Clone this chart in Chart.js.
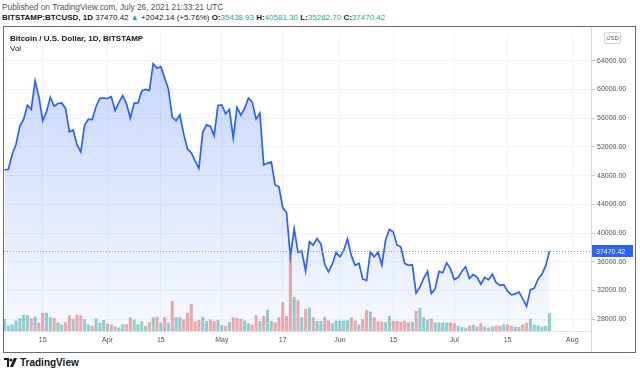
<!DOCTYPE html>
<html>
<head>
<meta charset="utf-8">
<script src="https://cdn.jsdelivr.net/npm/chart.js@4.4.1/dist/chart.umd.min.js"></script>
<style>
body{margin:0;width:640px;height:372px;background:#fff;position:relative;overflow:hidden;font-family:"Liberation Sans",Arial,sans-serif}
#pub{position:absolute;left:2px;top:2px;font-size:8.3px;color:#50535e;white-space:nowrap}
#sym{position:absolute;left:2px;top:13px;font-size:8px;color:#131722;white-space:nowrap}
#sym .up{color:#26a69a}
#frame{position:absolute;left:3px;top:26px;width:631px;height:325px;border:1px solid #6a6d78}
#frame canvas{position:absolute;left:0;top:0}
#title{position:absolute;left:6px;top:7px;font-size:8px;font-weight:bold;color:#131722;white-space:nowrap}
#vol{position:absolute;left:6px;top:17px;font-size:8px;color:#131722}
#usd{position:absolute;left:600px;top:5px;width:15px;height:10px;border:1px solid #d1d4dc;border-radius:2px;background:#fff;font-size:6px;color:#50535e;text-align:center;line-height:10px}
#foot{position:absolute;left:4px;top:356px;height:12px;display:flex;align-items:center;font-size:10px;font-weight:bold;color:#131722}
#foot svg{margin-right:3px}
</style>
</head>
<body>
<div id="pub">Published on TradingView.com, July 26, 2021 21:33:21 UTC</div>
<div id="sym"><b>BITSTAMP:BTCUSD, 1D</b> 37470.42 <span class="up">▲</span> +2042.14 (+5.76%) <b>O:</b><span class="up">35438.93</span> <b>H:</b><span class="up">40581.30</span> <b>L:</b><span class="up">35282.70</span> <b>C:</b><span class="up">37470.42</span></div>
<div id="frame">
  <canvas id="c" width="631" height="325"></canvas>
  <div id="title">Bitcoin / U.S. Dollar, 1D, BITSTAMP</div>
  <div id="vol">Vol</div>
  <div id="usd">USD</div>
</div>
<div id="foot"><svg width="13" height="9" viewBox="0 0 13 9"><path d="M0 0h5v9H3V2H0z" fill="#131722"/><circle cx="7" cy="2" r="1.6" fill="#131722"/><path d="M10 0h3L9 9H6z" fill="#131722"/></svg>TradingView</div>

<script>
// daily closes, Mar 5 .. Jul 26 2021
const closes = [
  48800,48880,50970,52370,54880,55860,57800,57230,61180,59000,55630,56900,58900,57650,58030,58100,57350,54100,54340,52300,51300,55030,55850,55780,57600,58760,58780,
  58730,58990,57060,58200,59130,57990,56010,58080,58100,59770,59980,59850,63580,62950,63160,61600,60040,56150,55650,56470,53800,51700,51190,50050,49000,54020,55060,54850,53560,57750,
  57830,56610,57200,53240,57480,56400,57350,58800,58230,55860,56700,49500,49700,49900,46700,46430,43540,42850,36700,40600,37300,37500,34700,38780,38300,39240,38490,35660,34600,35670,37300,
  36680,37570,39180,36850,35520,35800,33580,33400,37380,36690,37330,35550,39020,40520,40140,38350,38060,35780,35490,35600,31660,32500,33680,34660,31590,32250,34650,34470,35860,35050,
  33540,33800,34650,35300,33690,34220,33880,32870,33810,33510,34260,33090,32730,32820,31900,31400,31530,31790,30830,29790,32110,32290,33580,34260,35430,37470.42
]
// volume, thousand BTC
const volumes = [
  7.4,3.4,4.0,6.4,8.0,10.0,9.6,7.6,8.8,5.2,11.2,11.2,8.4,8.0,5.2,4.0,5.4,9.6,7.2,10.0,9.6,7.2,4.0,3.2,7.6,5.2,6.8,
  4.4,4.0,2.8,2.2,4.0,4.2,8.2,7.0,4.2,5.8,3.0,5.4,8.4,8.8,5.2,8.6,5.2,18.4,8.4,8.4,7.0,11.2,16.6,6.0,6.8,8.8,6.2,7.0,6.2,6.8,
  3.6,3.0,5.4,8.4,8.0,7.4,6.4,4.8,4.0,9.6,6.2,9.2,13.0,6.2,5.2,8.4,17.6,9.2,45.4,20.8,18.8,8.4,13.4,14.4,8.4,6.2,6.2,8.8,6.4,4.8,6.4,
  6.4,6.4,6.4,8.4,6.4,4.0,7.2,12.8,12.0,8.4,5.8,5.8,5.4,9.2,6.2,6.2,5.6,6.2,5.2,5.8,12.4,14.2,8.4,7.0,7.6,5.2,5.2,5.2,5.2,5.2,
  4.8,3.2,2.4,2.0,3.4,4.0,2.8,4.8,2.8,2.2,2.8,3.2,3.2,4.2,4.0,3.2,2.6,2.4,4.0,5.2,7.4,4.0,3.4,2.6,3.0,10.8
]
// 1 = up day, 0 = down day
const volUp = [
  1,1,1,1,1,1,1,0,1,0,0,1,1,0,1,1,0,0,1,0,0,1,1,0,1,1,1,
  0,1,0,1,1,0,0,1,1,1,1,0,1,0,1,0,1,0,1,1,0,0,0,0,0,1,1,0,0,1,
  1,0,1,0,0,0,1,1,0,0,1,0,1,1,0,0,0,0,0,1,0,1,0,1,0,1,1,0,0,1,1,
  1,1,1,0,0,1,0,0,1,0,0,0,1,1,0,0,0,0,0,1,0,1,1,1,0,1,1,1,1,0,
  0,1,1,1,0,1,0,0,1,0,1,0,0,1,0,0,1,1,0,0,1,1,1,1,1,1
]
const tickDays = [10,27,41,57,73,88,102,118,132,149]
const tickLabels = ["15","Apr","15","May","17","Jun","15","Jul","15","Aug"]
const priceTicks = [28000,32000,36000,40000,44000,48000,52000,56000,60000,64000]

const lastPrice = closes[closes.length-1]
const font = '"Liberation Sans", Arial, sans-serif'

const linePts = closes.map((v,i)=>({x:i,y:v}))
const volPts = volumes.map((v,i)=>({x:i,y:v}))

const overlay = {
id:'overlay',
afterDatasetsDraw(chart){
const {ctx,chartArea:a,scales:{y}} = chart
const py = Math.round(y.getPixelForValue(lastPrice))+0.5
ctx.save()
ctx.strokeStyle='#7b9cff'
ctx.lineWidth=1
ctx.setLineDash([1,2])
ctx.beginPath()
ctx.moveTo(a.left,py)
ctx.lineTo(a.right,py)
ctx.stroke()
ctx.restore()
},
afterDraw(chart){
const {ctx,chartArea:a,scales:{y}} = chart
const py = Math.round(y.getPixelForValue(lastPrice))+0.5
ctx.save()
// price scale separator
ctx.strokeStyle='#d6d9e0'
ctx.lineWidth=1
ctx.beginPath()
ctx.moveTo(Math.round(a.right)+0.5,0)
ctx.lineTo(Math.round(a.right)+0.5,chart.height)
ctx.stroke()
// last price label
ctx.fillStyle='#2962ff'
ctx.fillRect(Math.round(a.right)+1,py-6.5,chart.width-Math.round(a.right)-3,12)
ctx.fillStyle='#fff'
ctx.font='7px '+font
ctx.textBaseline='middle'
ctx.fillText(lastPrice.toFixed(2),a.right+5,py+0.5)
ctx.restore()
}
}

new Chart(document.getElementById("c"),{
data:{
datasets:[
{
type:'line',
data:linePts,
borderColor:'#2962ff',
borderWidth:1.7,
pointRadius:0,
tension:0,
fill:'origin',
backgroundColor:(c)=>{
const a=c.chart.chartArea
if(!a) return 'rgba(41,98,255,0.15)'
const g=c.chart.ctx.createLinearGradient(0,a.top,0,a.bottom)
g.addColorStop(0,'rgba(41,98,255,0.28)')
g.addColorStop(1,'rgba(41,98,255,0.04)')
return g
},
yAxisID:'y',
order:0
},
{
type:'bar',
data:volPts,
backgroundColor:volUp.map(u=>u?'rgba(38,166,154,0.5)':'rgba(239,83,80,0.5)'),
barPercentage:0.8,
categoryPercentage:1,
yAxisID:'y2',
order:1
}
]
},
options:{
responsive:false,
animation:false,
devicePixelRatio:1,
layout:{padding:0},
plugins:{legend:{display:false},tooltip:{enabled:false}},
scales:{
x:{
type:'linear',
offset:false,
min:-0.157,
max:153.9,
afterBuildTicks(s){s.ticks=tickDays.map(v=>({value:v}))},
afterFit(s){s.height=21},
ticks:{
autoSkip:false,
maxRotation:0,
padding:5,
color:'#50535e',
font:{family:font,size:7},
callback:(v)=>tickLabels[tickDays.indexOf(v)]
},
grid:{color:'#f0f3fa',drawTicks:false,offset:false},
border:{color:'#e0e3eb'}
},
y:{
position:'right',
min:26364,
max:67818,
afterBuildTicks(s){s.ticks=priceTicks.map(v=>({value:v}))},
afterFit(s){s.width=44},
ticks:{
padding:2,
color:'#50535e',
font:{family:font,size:7},
callback:(v)=>v.toFixed(2)
},
grid:{color:'#f0f3fa',tickLength:4,tickColor:'#c8cbd3'},
border:{display:false}
},
y2:{
display:false,
min:0,
max:182.4
}
}
},
plugins:[overlay]
})
</script>
</body>
</html>
